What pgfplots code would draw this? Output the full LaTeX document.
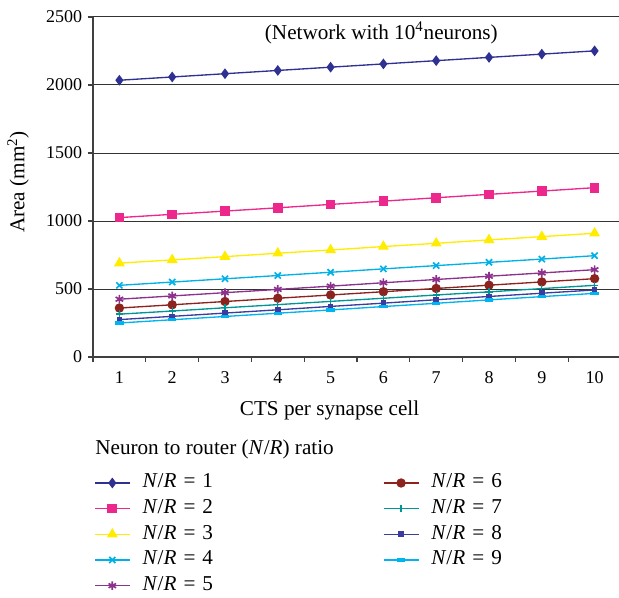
\documentclass[border=0pt]{standalone}
\usepackage{fontspec}
\setmainfont{Liberation Serif}
\usepackage{pgfplots}
\pgfplotsset{compat=1.18}
\definecolor{c1}{RGB}{46,49,146}
\definecolor{c2}{RGB}{236,40,140}
\definecolor{c3}{RGB}{255,236,0}
\definecolor{c4}{RGB}{0,176,230}
\definecolor{c5}{RGB}{140,50,140}
\definecolor{c6}{RGB}{140,35,30}
\definecolor{c7}{RGB}{0,150,150}
\definecolor{c8}{RGB}{60,60,160}
\definecolor{c9}{RGB}{0,180,240}
\newcommand{\txt}{\fontsize{12.7}{15}\selectfont}
\newcommand{\nr}[1]{\makebox[60pt][l]{\textit{N}/\textit{R}\,\,=\,\,#1}}
\begin{document}
\begin{tikzpicture}[font=\fontsize{10.8}{13}\selectfont]
\begin{axis}[
  name=ax, at={(0,0)}, anchor=south west,
  scale only axis, width=316.8pt, height=204pt,
  xmin=0.5, xmax=10.5, ymin=0, ymax=2500,
  axis x line*=bottom, axis y line*=left,
  axis line style={draw=black!75, line width=0.8pt, -},
  xtick={1,...,10}, major x tick style={draw=none},
  minor xtick={0.5,1.5,...,10.5},
  ytick={0,500,...,2500},
  tick align=outside, major tick length=3pt, minor tick length=3pt,
  tick style={black!75, line width=0.8pt},
  xticklabel style={yshift=-2pt},
  ymajorgrids, grid style={black!80, line width=0.6pt},
  /pgf/number format/1000 sep={},
  /pgf/number format/assume math mode=true,
  xlabel={CTS per synapse cell},
  xlabel style={at={(axis description cs:0.448,-0.158)}, anchor=center, font=\txt},
  ylabel={Area (mm\textsuperscript{2})},
  ylabel style={at={(axis description cs:-0.142,0.515)}, anchor=center, font=\txt},
  legend columns=2,
  legend cell align=left,
  legend style={at={(axis description cs:-0.008,-0.322)}, anchor=north west,
    draw=none, fill=none, row sep=0pt, font=\txt,
    nodes={text height=8.5pt, text depth=2.5pt, inner sep=2.2pt},
    /tikz/every odd column/.append style={column sep=5pt},
    /tikz/every even column/.append style={column sep=82pt}},
  legend image code/.code={\draw[mark repeat=2,mark phase=2] plot coordinates {(0cm,0cm) (0.37cm,0cm) (0.74cm,0cm)};},
  every axis plot/.append style={line width=0.8pt},
]
\addplot[c1, mark=diamond*, mark size=2.6pt] coordinates {(1,2035)(2,2059)(3,2083)(4,2107)(5,2131)(6,2155)(7,2179)(8,2203)(9,2227)(10,2251)};
\addlegendentry{\nr{1}}
\addplot[c6, mark=*, mark size=2.4pt] coordinates {(1,360)(2,384)(3,408)(4,432)(5,456)(6,480)(7,504)(8,528)(9,552)(10,576)};
\addlegendentry{\nr{6}}
\addplot[c2, mark=square*, mark size=2.5pt] coordinates {(1,1025)(2,1049)(3,1073)(4,1097)(5,1122)(6,1146)(7,1171)(8,1196)(9,1220)(10,1245)};
\addlegendentry{\nr{2}}
\addplot[c7, mark=+, mark size=2.2pt] coordinates {(1,315)(2,338)(3,362)(4,385)(5,409)(6,432)(7,456)(8,479)(9,503)(10,527)};
\addlegendentry{\nr{7}}
\addplot[c3, mark=triangle*, mark size=3pt] coordinates {(1,690)(2,714)(3,738)(4,763)(5,787)(6,812)(7,836)(8,861)(9,885)(10,910)};
\addlegendentry{\nr{3}}
\addplot[c8, mark=square*, mark size=1.3pt] coordinates {(1,275)(2,299)(3,323)(4,347)(5,372)(6,396)(7,421)(8,445)(9,469)(10,493)};
\addlegendentry{\nr{8}}
\addplot[c4, mark=x, mark size=2.6pt, mark options={line width=1pt}] coordinates {(1,527)(2,551)(3,575)(4,599)(5,623)(6,648)(7,672)(8,696)(9,720)(10,745)};
\addlegendentry{\nr{4}}
\addplot[c9, mark=-, mark size=2.5pt, mark options={line width=2pt}] coordinates {(1,250)(2,274)(3,298)(4,322)(5,346)(6,371)(7,395)(8,420)(9,444)(10,468)};
\addlegendentry{\nr{9}}
\addplot[c5, mark=asterisk, mark size=2.6pt, mark options={line width=1pt}] coordinates {(1,425)(2,449)(3,473)(4,497)(5,521)(6,546)(7,570)(8,594)(9,618)(10,642)};
\addlegendentry{\nr{5}}
\end{axis}
\node[font=\txt] at (173pt,194.4pt) {(Network with 10\textsuperscript{4}neurons)};
\node[anchor=west, inner sep=0pt, font=\txt] at (1.2pt,-55.2pt) {Neuron to router (\textit{N}/\textit{R}) ratio};
\pgfresetboundingbox
\path (-55.8pt,-144pt) rectangle (315.6pt,214.2pt);
\end{tikzpicture}
\end{document}
